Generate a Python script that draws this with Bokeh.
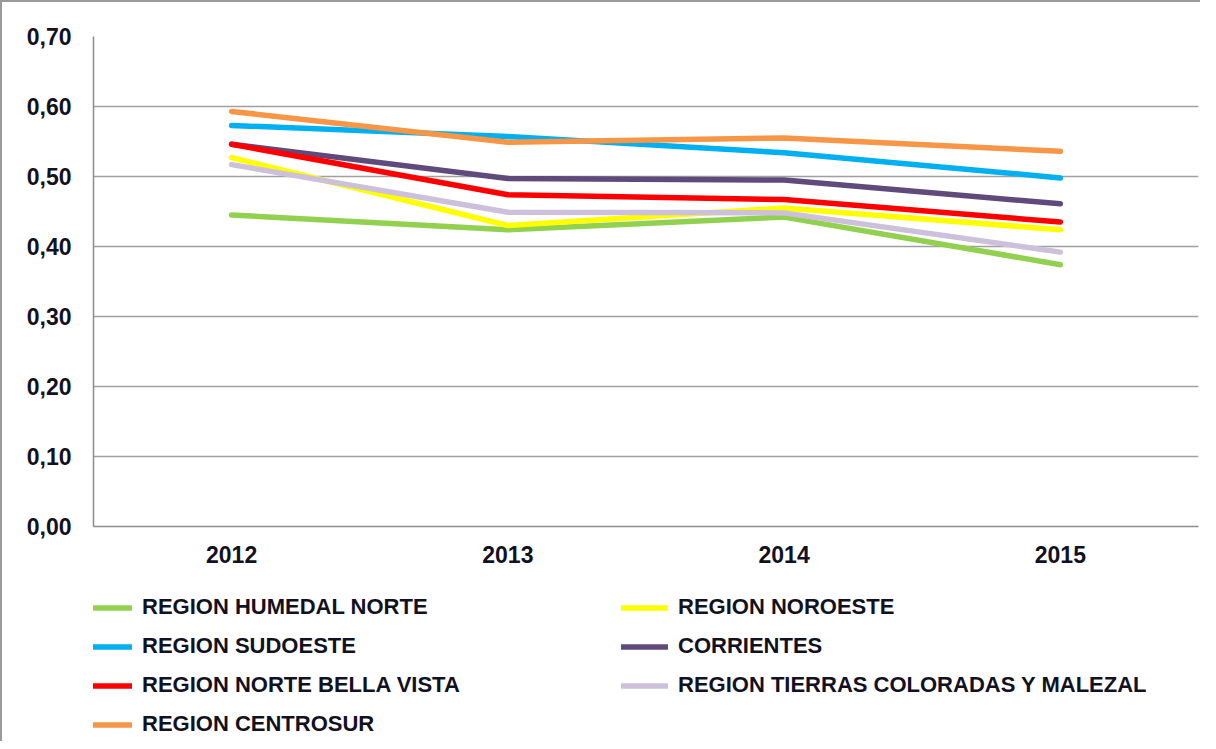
from bokeh.plotting import figure
from bokeh.layouts import column
from bokeh.models import Range1d, FactorRange, FixedTicker, CustomJSTickFormatter, Legend, LegendItem
from bokeh.embed import file_html
from bokeh.resources import INLINE

years = ["2012", "2013", "2014", "2015"]
series_names = [
    "REGION HUMEDAL NORTE",
    "REGION NOROESTE",
    "REGION SUDOESTE",
    "CORRIENTES",
    "REGION NORTE BELLA VISTA",
    "REGION TIERRAS COLORADAS Y MALEZAL",
    "REGION CENTROSUR",
]
humedal_norte = [0.445, 0.424, 0.442, 0.374]
noroeste = [0.527, 0.430, 0.455, 0.424]
sudoeste = [0.573, 0.557, 0.534, 0.498]
corrientes = [0.546, 0.497, 0.495, 0.461]
norte_bella_vista = [0.546, 0.474, 0.467, 0.435]
tierras_coloradas = [0.517, 0.449, 0.448, 0.392]
centrosur = [0.593, 0.549, 0.555, 0.536]
series_values = [humedal_norte, noroeste, sudoeste, corrientes,
                 norte_bella_vista, tierras_coloradas, centrosur]
colors = ["#92D050", "#FFFF00", "#00B0F0", "#604A7B", "#FF0000", "#CCC0DA", "#F79646"]
y_ticks = [0.0, 0.1, 0.2, 0.3, 0.4, 0.5, 0.6, 0.7]

FONT = "Liberation Sans"
TXT = "#111122"

p = figure(x_range=FactorRange(*years), y_range=Range1d(0, 0.7),
           width=1198, height=565, output_backend="svg", toolbar_location=None,
           min_border_left=91, min_border_top=34, min_border_right=2, min_border_bottom=41)
p.outline_line_color = None
p.background_fill_color = "white"
p.border_fill_color = "white"

p.yaxis.ticker = FixedTicker(ticks=y_ticks)
p.yaxis.formatter = CustomJSTickFormatter(code="return tick.toFixed(2).replace('.', ',');")
for ax in (p.xaxis[0], p.yaxis[0]):
    ax.axis_line_color = "#8c8c8c"
    ax.axis_line_width = 1.5
    ax.major_tick_line_color = None
    ax.minor_tick_line_color = None
    ax.major_label_text_font = FONT
    ax.major_label_text_font_style = "bold"
    ax.major_label_text_font_size = "23px"
    ax.major_label_text_color = TXT
p.yaxis.major_label_standoff = 16
p.xaxis.major_label_standoff = 13
p.xgrid.grid_line_color = None
p.ygrid.grid_line_color = "#a0a0a0"
p.ygrid.grid_line_width = 1.5

for vals, c in zip(series_values, colors):
    p.line(years, vals, line_color=c, line_width=5.5, line_cap="round", line_join="round")

# legend panel below the chart: same series, plotted out of view so only the legend shows
lg = figure(width=1198, height=174, output_backend="svg", toolbar_location=None,
            x_range=FactorRange(*years), y_range=Range1d(10, 11),
            x_axis_location=None, y_axis_location=None,
            min_border_left=0, min_border_right=0, min_border_top=0, min_border_bottom=0)
lg.outline_line_color = None
lg.xgrid.grid_line_color = None
lg.ygrid.grid_line_color = None
items = []
for name, vals, c in zip(series_names, series_values, colors):
    r = lg.line(years, vals, line_color=c, line_width=5.5, line_cap="round")
    items.append(LegendItem(label=name, renderers=[r]))

legend = Legend(items=items, location=(-8, 4), orientation="horizontal", ncols=2,
                label_width=466, spacing=13, glyph_width=47, glyph_height=25, label_height=25,
                label_standoff=10, padding=0, margin=0, border_line_color=None,
                background_fill_alpha=0, label_text_font=FONT, label_text_font_style="bold",
                label_text_font_size="22px", label_text_color=TXT)
lg.add_layout(legend, "center")

layout = column(p, lg, spacing=0)
layout.styles = {"border-top": "2px solid #9a9a9a", "border-left": "2px solid #9a9a9a"}

open("out.html", "w").write(file_html(layout, INLINE))
